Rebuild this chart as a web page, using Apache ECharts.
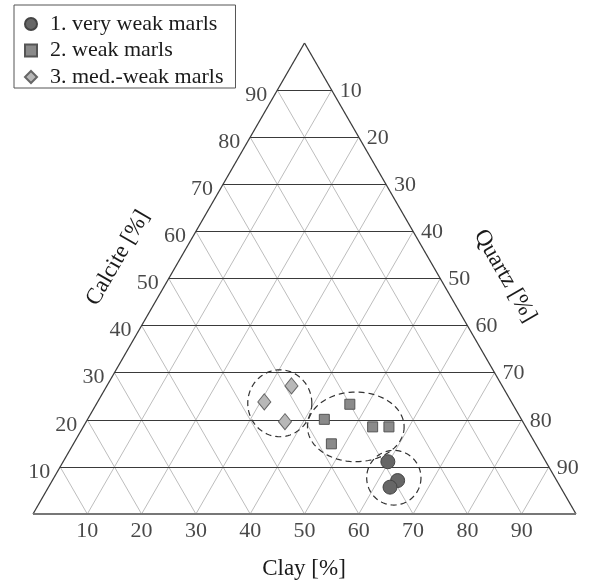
<!DOCTYPE html>
<html>
<head>
<meta charset="utf-8">
<script src="https://cdn.jsdelivr.net/npm/echarts@6/dist/echarts.min.js"></script>
<style>
  html, body { margin: 0; padding: 0; background: #fff; }
  #chart { width: 590px; height: 581px; }
</style>
</head>
<body>
<div id="chart"></div>
<script>
// Ternary composition of marl samples: [clay %, calcite %, quartz %]
const clayTicks = [10, 20, 30, 40, 50, 60, 70, 80, 90];
const calciteTicks = [10, 20, 30, 40, 50, 60, 70, 80, 90];
const quartzTicks = [10, 20, 30, 40, 50, 60, 70, 80, 90];

const seriesNames = ['1. very weak marls', '2. weak marls', '3. med.-weak marls'];

const veryWeakMarls = [
  [59.8, 11.1, 29.1],
  [63.6, 7.1, 29.3],
  [62.9, 5.7, 31.4]
];
const weakMarls = [
  [46.7, 23.3, 30.0],
  [43.6, 20.1, 36.3],
  [53.3, 18.5, 28.2],
  [56.3, 18.5, 25.2],
  [47.5, 14.9, 37.6]
];
const medWeakMarls = [
  [34.0, 27.2, 38.8],
  [30.7, 23.8, 45.5],
  [36.6, 19.6, 43.8]
];

// Dashed group outlines: [clay centre, calcite centre, half-width %, half-height %]
const groupOutlines = [
  [62.6, 7.7, 5.0, 5.8],
  [50.2, 18.5, 8.9, 7.4],
  [33.7, 23.5, 5.9, 7.1]
];

// Ternary -> plane (x along the base, y = calcite height)
function toXY(clay, calcite) {
  return [clay + calcite / 2, calcite];
}

const serif = '"Liberation Serif", "DejaVu Serif", serif';
const textColor = '#1a1a1a';

// Grid lines
const horizontalLines = calciteTicks.map(c => ({ coords: [toXY(0, c), toXY(100 - c, c)] }));
const clayLines = clayTicks.map(c => ({ coords: [toXY(c, 0), toXY(c, 100 - c)] }));
const quartzLines = clayTicks.map(k => ({ coords: [toXY(k, 0), toXY(0, k)] }));
const sideEdges = [
  { coords: [toXY(0, 0), toXY(0, 100)] },
  { coords: [toXY(0, 100), toXY(100, 0)] }
];
const baseEdge = [{ coords: [toXY(0, 0), toXY(100, 0)] }];

// Edge tick labels
const leftLabels = calciteTicks.map(c => ({ value: toXY(0, c), label: String(c) }));
const rightLabels = quartzTicks.map(q => ({ value: toXY(q, 100 - q), label: String(q) }));
const bottomLabels = clayTicks.map(c => ({ value: toXY(c, 0), label: String(c) }));

function labelSeries(data, position, distance, offset) {
  return {
    type: 'scatter',
    silent: true,
    symbolSize: 0,
    z: 5,
    data: data.map(d => ({ value: d.value, name: d.label })),
    label: {
      show: true,
      position: position,
      distance: distance,
      offset: offset,
      formatter: p => p.name,
      fontFamily: serif,
      fontSize: 22,
      color: textColor
    }
  };
}

function pointsSeries(name, data, symbol, size, fill, border) {
  return {
    name: name,
    type: 'scatter',
    symbol: symbol,
    symbolSize: size,
    z: 10,
    data: data.map(d => toXY(d[0], d[1])),
    itemStyle: { color: fill, borderColor: border, borderWidth: 1, opacity: 1 }
  };
}

const chart = echarts.init(document.getElementById('chart'), null, { renderer: 'canvas' });

chart.setOption({
  animation: false,
  backgroundColor: '#fff',
  grid: { left: 33, right: 14, top: 43, bottom: 67 },
  xAxis: { type: 'value', min: 0, max: 100, show: false },
  yAxis: { type: 'value', min: 0, max: 100, show: false },
  legend: {
    orient: 'vertical',
    left: 14,
    top: 5,
    padding: [8, 12, 0, 10],
    borderColor: '#555',
    borderWidth: 1,
    itemGap: 4.5,
    itemWidth: 12,
    itemHeight: 12,
    textStyle: { fontFamily: serif, fontSize: 22, color: textColor, lineHeight: 20, padding: [0, 0, 0, 8] },
    data: [
      { name: seriesNames[0], icon: 'circle' },
      { name: seriesNames[1], icon: 'rect' },
      { name: seriesNames[2], icon: 'diamond' }
    ]
  },
  series: [
    {
      type: 'lines', coordinateSystem: 'cartesian2d', silent: true, z: 1,
      data: clayLines.concat(quartzLines),
      lineStyle: { color: '#bdbdbd', width: 1, opacity: 1 }
    },
    {
      type: 'lines', coordinateSystem: 'cartesian2d', silent: true, z: 2,
      data: horizontalLines,
      lineStyle: { color: '#3a3a3a', width: 1.2, opacity: 1 }
    },
    {
      type: 'lines', coordinateSystem: 'cartesian2d', silent: true, z: 3,
      data: sideEdges,
      lineStyle: { color: '#3a3a3a', width: 1.3, opacity: 1 }
    },
    {
      type: 'lines', coordinateSystem: 'cartesian2d', silent: true, z: 3,
      data: baseEdge,
      lineStyle: { color: '#777', width: 2, opacity: 1 }
    },
    {
      type: 'custom', silent: true, z: 4,
      data: groupOutlines,
      renderItem: function (params, api) {
        const c = api.coord(toXY(api.value(0), api.value(1)));
        const s = api.size([api.value(2), api.value(3)]);
        const pts = [];
        for (let i = 0; i < 96; i++) {
          const t = (i / 96) * Math.PI * 2;
          pts.push([c[0] + s[0] * Math.cos(t), c[1] + s[1] * Math.sin(t)]);
        }
        return {
          type: 'polygon',
          shape: { points: pts },
          style: { fill: 'none', stroke: '#333', lineWidth: 1.2, lineDash: [6, 4] }
        };
      }
    },
    labelSeries(leftLabels, 'left', 10, [0, 5]),
    labelSeries(rightLabels, 'right', 8, [0, 1]),
    labelSeries(bottomLabels, 'bottom', 6, [0, 0]),
    pointsSeries(seriesNames[0], veryWeakMarls, 'circle', 14, '#666', '#444'),
    pointsSeries(seriesNames[1], weakMarls, 'rect', 10, '#8a8a8a', '#555'),
    pointsSeries(seriesNames[2], medWeakMarls, 'diamond', [13, 16], '#b8b8b8', '#666')
  ],
  graphic: [
    {
      type: 'text', x: 304, y: 569,
      style: { text: 'Clay [%]', fontFamily: serif, fontSize: 23, fill: textColor, align: 'center', verticalAlign: 'middle' }
    },
    {
      type: 'text', x: 118, y: 258, rotation: Math.PI / 3,
      style: { text: 'Calcite [%]', fontFamily: serif, fontSize: 23, fill: textColor, align: 'center', verticalAlign: 'middle' }
    },
    {
      type: 'text', x: 505, y: 276, rotation: -Math.PI / 3,
      style: { text: 'Quartz [%]', fontFamily: serif, fontSize: 23, fill: textColor, align: 'center', verticalAlign: 'middle' }
    }
  ]
});
</script>
</body>
</html>
